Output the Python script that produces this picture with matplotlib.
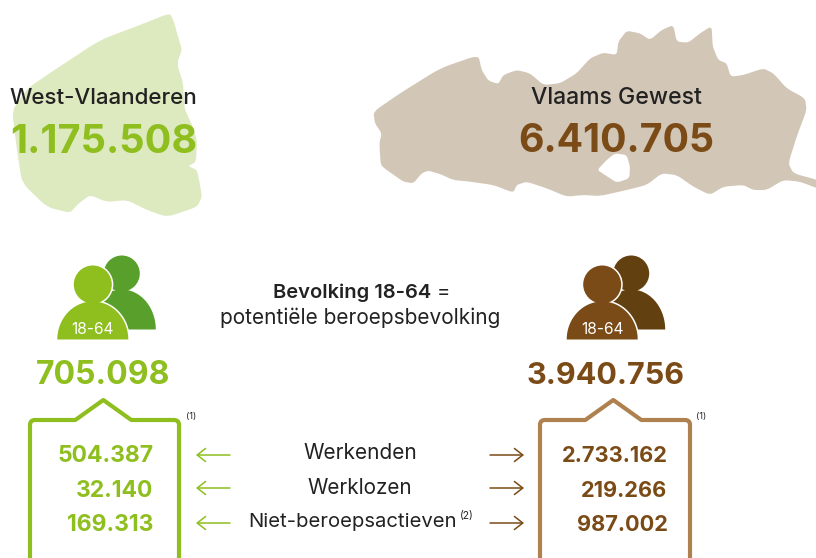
import numpy as np
import matplotlib.pyplot as plt
from matplotlib.patches import Polygon, Circle, PathPatch
from matplotlib.path import Path

plt.rcParams['font.family'] = ['Inter', 'DejaVu Sans']

# cijfers
regio_namen = ['West-Vlaanderen', 'Vlaams Gewest']
regio_totaal = ['1.175.508', '6.410.705']
bevolking_1864 = ['705.098', '3.940.756']
west_vl = ['504.387', '32.140', '169.313']
vlaams = ['2.733.162', '219.266', '987.002']
categorieen = ['Werkenden', 'Werklozen', 'Niet-beroepsactieven']

# kleuren
GROEN = '#8FBE1F'
GROEN_D = '#58A02B'
GROEN_L = '#DDE9BE'
BRUIN = '#7A4B17'
BRUIN_D = '#63400F'
BEIGE = '#D2C6B6'
BRUIN_KADER = '#AE814F'
ZWART = '#222222'

# contouren van de kaarten (pixels)
kaart_wvl = [(170, 13), (174, 22), (177, 33), (182, 50), (178, 60), (178, 67), (183, 83), (184, 100), (185, 110),
             (192, 125), (197, 140), (196, 162), (188, 166), (197, 170), (200, 185), (202, 197), (197, 207),
             (167, 217), (147, 210), (127, 200), (107, 202), (90, 195), (78, 204), (70, 213), (47, 207),
             (22, 183), (17, 150), (12, 110), (28, 88), (50, 73), (100, 40), (140, 25)]
kaart_vl = [(40, 305), (120, 250), (240, 175), (355, 135), (365, 180), (385, 212), (415, 222), (430, 195), (470, 180),
            (510, 190), (550, 225), (600, 220), (650, 190), (690, 145), (730, 128), (770, 135), (775, 95), (800, 62),
            (840, 70), (870, 90), (905, 60), (940, 45), (950, 95), (985, 98), (1020, 70), (1055, 48), (1058, 110),
            (1075, 150), (1100, 160), (1112, 200), (1150, 195), (1210, 175), (1240, 190), (1280, 235), (1335, 265),
            (1340, 300), (1310, 380), (1285, 460), (1300, 490), (1380, 512), (1380, 538), (1320, 515), (1270, 510),
            (1220, 540), (1180, 540), (1150, 525), (1090, 530), (1050, 555), (1000, 530), (950, 495), (905, 490),
            (860, 525), (800, 540), (720, 558), (670, 555), (620, 560), (560, 535), (500, 515), (470, 525), (460, 548),
            (400, 525), (330, 515), (280, 510), (240, 492), (205, 482), (185, 490), (160, 520), (130, 515), (80, 480),
            (62, 465), (58, 400), (65, 370), (45, 340)]
gat_vl = [(765, 430), (800, 435), (810, 470), (808, 505), (770, 518), (735, 495), (712, 480), (740, 450)]


def glad(punten, n=2):
    # hoeken afronden
    p = np.array(punten, dtype=float)
    for _ in range(n):
        q = np.roll(p, -1, axis=0)
        p = np.column_stack([0.85 * p + 0.15 * q, 0.15 * p + 0.85 * q]).reshape(-1, 2)
    return p


def zoom_px(punten):
    p = np.array(punten, dtype=float)
    return p / 3 + np.array([360, 10])


def koepel(cx, basis, breedte, hoogte):
    t = np.linspace(np.pi, 0, 60)
    return np.column_stack([cx + breedte / 2 * np.cos(t), basis - hoogte * np.sin(t)])


def personen(ax, cx, kleur, kleur_d):
    # cx = midden van de voorste figuur
    ax.add_patch(Circle((cx + 29, 273.5), 18, color=kleur_d, lw=0, zorder=2))
    ax.add_patch(Polygon(koepel(cx + 29, 329.5, 68, 40), color=kleur_d, lw=0, zorder=2))
    # witte rand alleen rond het silhouet, niet tussen hoofd en lijf
    ax.add_patch(Polygon(koepel(cx, 339.5, 71, 38), fc='white', ec='white', lw=2.2, zorder=3))
    ax.add_patch(Circle((cx, 284.5), 19, fc='white', ec='white', lw=2.2, zorder=3))
    ax.add_patch(Polygon(koepel(cx, 339.5, 71, 38), fc=kleur, lw=0, zorder=4))
    ax.add_patch(Circle((cx, 284.5), 19, fc=kleur, lw=0, zorder=4))
    ax.text(cx, 329, '18-64', color='white', fontsize=11.2, ha='center', va='center', zorder=5)


def kader(ax, x0, x1, top, piek_x, kleur):
    bodem = 563
    r = 5
    verts = [(x0, bodem - r), (x0, bodem), (x0 + r, bodem), (x1 - r, bodem), (x1, bodem), (x1, bodem - r),
             (x1, top + r), (x1, top), (x1 - r, top), (piek_x + 28, top), (piek_x, top - 20), (piek_x - 28, top),
             (x0 + r, top), (x0, top), (x0, top + r), (x0, bodem - r)]
    codes = [Path.MOVETO, Path.CURVE3, Path.CURVE3, Path.LINETO, Path.CURVE3, Path.CURVE3, Path.LINETO, Path.CURVE3,
             Path.CURVE3, Path.LINETO, Path.LINETO, Path.LINETO, Path.LINETO, Path.CURVE3, Path.CURVE3, Path.LINETO]
    ax.add_patch(PathPatch(Path(verts, codes), fc='white', ec=kleur, lw=3, joinstyle='round', zorder=2))


fig = plt.figure(figsize=(8.16, 5.58), dpi=100)
ax = fig.add_axes([0, 0, 1, 1])
ax.set_xlim(0, 816)
ax.set_ylim(558, 0)
ax.axis('off')

# kaarten
ax.add_patch(Polygon(glad(kaart_wvl), fc=GROEN_L, lw=0, zorder=1))
ax.add_patch(Polygon(glad(zoom_px(kaart_vl)), fc=BEIGE, lw=0, zorder=1))
ax.add_patch(Polygon(glad(zoom_px(gat_vl)), fc='white', lw=0, zorder=1))

ax.text(103.5, 98, regio_namen[0], color=ZWART, fontsize=16.1, weight='medium', ha='center', va='center', zorder=6)
ax.text(103.5, 153, regio_totaal[0], color=GROEN, fontsize=28.5, weight='bold', ha='center', va='baseline', zorder=6)
ax.text(616.5, 98, regio_namen[1], color=ZWART, fontsize=16.6, weight='medium', ha='center', va='center', zorder=6)
ax.text(616, 152, regio_totaal[1], color=BRUIN, fontsize=28.3, weight='bold', ha='center', va='baseline', zorder=6)

# figuren
personen(ax, 92.8, GROEN, GROEN_D)
personen(ax, 602.2, BRUIN, BRUIN_D)

ax.text(103, 384, bevolking_1864[0], color=GROEN, fontsize=23, weight='bold', ha='center', va='baseline')
ax.text(606, 384, bevolking_1864[1], color=BRUIN, fontsize=22, weight='bold', ha='center', va='baseline')

ax.text(431, 293, 'Bevolking 18-64', color=ZWART, fontsize=14.5, weight='semibold', ha='right', va='center')
ax.text(437, 293, '=', color=ZWART, fontsize=14.5, ha='left', va='center')
ax.text(360, 318, 'potentiële beroepsbevolking', color=ZWART, fontsize=15, ha='center', va='center')

# kaders
kader(ax, 30, 179, 420, 103.3, GROEN)
kader(ax, 540, 690, 420, 613.3, BRUIN_KADER)
ax.text(191, 417, '(1)', color=ZWART, fontsize=6.5, ha='center', va='center')
ax.text(701, 417, '(1)', color=ZWART, fontsize=6.5, ha='center', va='center')

basislijn = [462, 497, 531]
rij_y = [455, 488, 523]
label_y = [453, 488, 522]
for i in range(3):
    ax.text(153.5, basislijn[i], west_vl[i], color=GROEN, fontsize=16.5, weight='bold', ha='right', va='baseline', zorder=5)
    ax.text(667.5, basislijn[i], vlaams[i], color=BRUIN, fontsize=15.7, weight='bold', ha='right', va='baseline', zorder=5)
    ax.annotate('', xy=(196, rij_y[i]), xytext=(230, rij_y[i]),
                arrowprops=dict(arrowstyle='->,head_length=0.6,head_width=0.47', color=GROEN, lw=1.1,
                                shrinkA=0, shrinkB=0))
    ax.annotate('', xy=(524, rij_y[i]), xytext=(490, rij_y[i]),
                arrowprops=dict(arrowstyle='->,head_length=0.6,head_width=0.47', color=BRUIN, lw=1.1,
                                shrinkA=0, shrinkB=0))

ax.text(360, label_y[0], categorieen[0], color=ZWART, fontsize=15, ha='center', va='center')
ax.text(360, label_y[1], categorieen[1], color=ZWART, fontsize=14.9, ha='center', va='center')
ax.text(248, label_y[2], categorieen[2], color=ZWART, fontsize=14.6, ha='left', va='center')
ax.text(467, label_y[2] - 6, '(2)', color=ZWART, fontsize=7.5, ha='center', va='center')

fig.savefig('out.png', dpi=100)
